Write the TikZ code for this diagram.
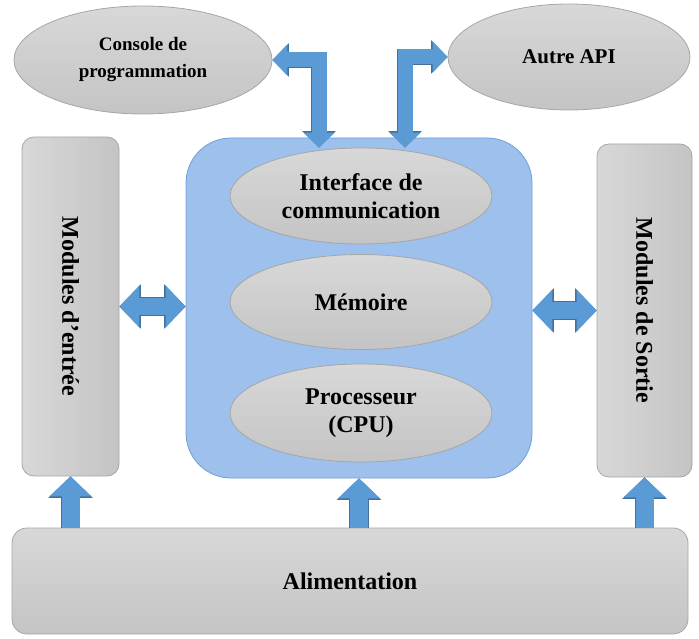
\documentclass[tikz,border=0pt]{standalone}
\usepackage{fontspec}
\setmainfont{Liberation Serif}
\usetikzlibrary{arrows.meta,positioning,shapes.geometric}

\definecolor{grayhi}{HTML}{D8D8D8}
\definecolor{graylo}{HTML}{C4C4C4}
\definecolor{grayedge}{HTML}{A6A6A6}
\definecolor{bluefill}{HTML}{9DC0EC}
\definecolor{blueedge}{HTML}{6F9ED6}
\definecolor{arrowfill}{HTML}{5B9BD5}
\definecolor{arrowedge}{HTML}{41719C}

\tikzset{
  bt/.tip={Triangle[width=42pt,length=20pt,line width=0pt]},
  bto/.tip={Triangle[width=44.5pt,length=21.5pt,line width=0pt]},
  st/.tip={Triangle[width=31pt,length=15pt,line width=0pt]},
  sto/.tip={Triangle[width=33.5pt,length=16.5pt,line width=0pt]}
}

\begin{document}
\begin{tikzpicture}[x=1pt, y=1pt,
box/.style={draw=grayedge, line width=0.8pt, rounded corners=12pt, align=center, inner sep=0pt,
  font=\fontsize{24}{28}\selectfont\bfseries},
oval/.style={ellipse, draw=grayedge, line width=0.8pt, top color=grayhi, bottom color=graylo,
  align=center, inner sep=0pt, font=\fontsize{24}{28}\selectfont\bfseries},
uparrow/.style={draw=arrowfill, line width=18pt, -bt,
  preaction={draw=arrowedge, line width=19.6pt, -bto}},
dblarrow/.style={draw=arrowfill, line width=17pt, bt-bt,
  preaction={draw=arrowedge, line width=18.6pt, bto-bto}},
bentarrow/.style={draw=arrowfill, line width=15pt, st-st,
  preaction={draw=arrowedge, line width=16.6pt, sto-sto}}
]
\useasboundingbox (0,0) rectangle (699,638);

% outer devices
\node[oval, minimum width=258pt, minimum height=108pt, font=\fontsize{19}{27}\selectfont\bfseries]
  (console) at (143,578) {Console de\\programmation};
\node[oval, minimum width=242pt, minimum height=106pt, font=\fontsize{21}{26}\selectfont\bfseries]
  (api) at (569,581) {Autre API};

% modules
\node[box, rotate=-90, left color=grayhi, right color=graylo, minimum width=339pt, minimum height=97pt]
  (inL) at (70.5,331.5) {Modules d'entrée};
\node[box, rotate=-90, left color=grayhi, right color=graylo, minimum width=333pt, minimum height=95pt]
  (outR) at (644.5,327.5) {Modules de Sortie};

% central unit
\node[draw=blueedge, line width=0.8pt, fill=bluefill, rounded corners=45pt,
  minimum width=346pt, minimum height=340pt] (ctrl) at (359,330) {};
\node[oval, minimum width=262pt, minimum height=96pt] (comm) at (361,442) {Interface de\\communication};
\node[oval, minimum width=262pt, minimum height=95pt] (mem) at (361,336) {Mémoire};
\node[oval, minimum width=262pt, minimum height=98pt] (cpu) at (361,225) {Processeur\\(CPU)};

% power supply
\node[box, rounded corners=15pt, top color=grayhi, bottom color=graylo,
  minimum width=676pt, minimum height=106pt] (alim) at (350,57) {Alimentation};

% links
\draw[bentarrow] (console.east) -| ([xshift=-40pt,yshift=-10pt]ctrl.north);
\draw[bentarrow] ([xshift=46pt,yshift=-10pt]ctrl.north) |- (api.west);
\draw[dblarrow] (inL.north) -- (ctrl.west |- inL.north);
\draw[dblarrow] (ctrl.east |- outR.south) -- (outR.south);
\draw[uparrow] (alim.north -| inL.east) -- (inL.east);
\draw[uparrow] (alim.north -| ctrl.south) -- (ctrl.south);
\draw[uparrow] (alim.north -| outR.east) -- (outR.east);
\end{tikzpicture}
\end{document}
